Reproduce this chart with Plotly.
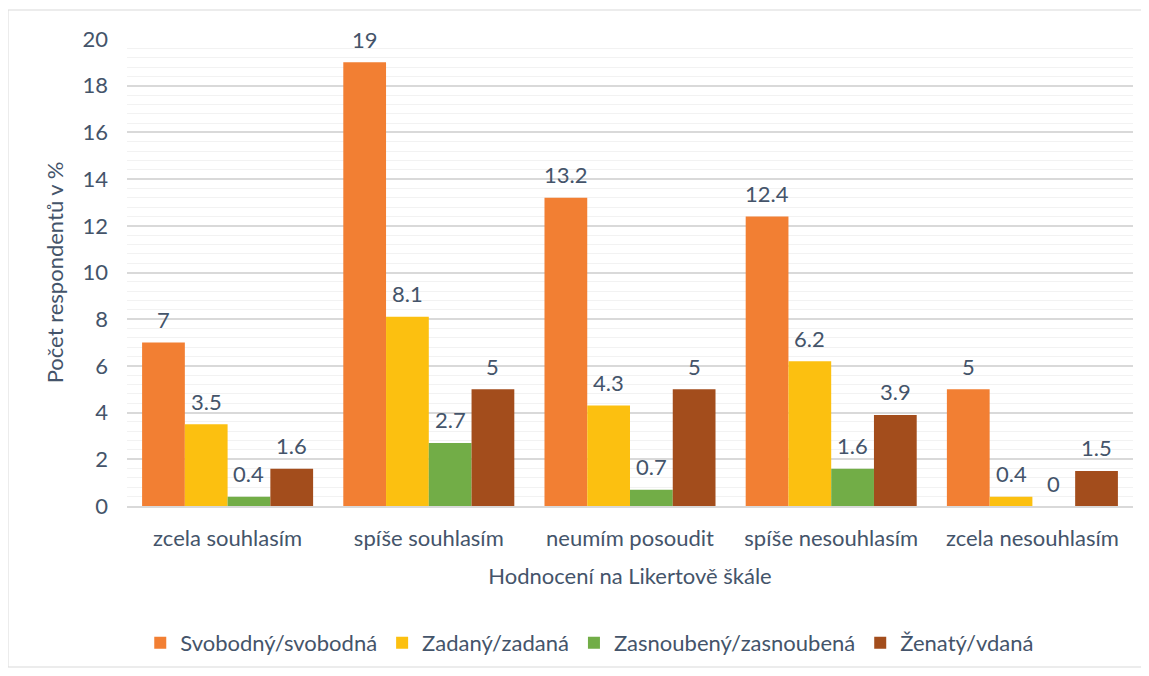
import plotly.graph_objects as go

categories = ["zcela souhlasím", "spíše souhlasím", "neumím posoudit", "spíše nesouhlasím", "zcela nesouhlasím"]
series_names = ["Svobodný/svobodná", "Zadaný/zadaná", "Zasnoubený/zasnoubená", "Ženatý/vdaná"]
svobodny = [7, 19, 13.2, 12.4, 5]
zadany = [3.5, 8.1, 4.3, 6.2, 0.4]
zasnoubeny = [0.4, 2.7, 0.7, 1.6, 0]
zenaty = [1.6, 5, 5, 3.9, 1.5]
colors = ["#F27F33", "#FCC010", "#72AD47", "#A34D1C"]

series = [svobodny, zadany, zasnoubeny, zenaty]
TXT = "#44546A"
FONT = "Lato"
FS = 22
bargap = 0.15

fig = go.Figure()
for name, vals, col in zip(series_names, series, colors):
    fig.add_trace(go.Bar(name=name, x=categories, y=vals, marker=dict(color=col, line=dict(width=0))))

# data labels above bars
n = len(series)
bw = (1 - bargap) / n
annotations = []
for si, vals in enumerate(series):
    off = -(1 - bargap) / 2 + bw * (si + 0.5)
    for ci, v in enumerate(vals):
        annotations.append(dict(x=ci + off, y=v, xref="x", yref="y", text=f"{v:g}", showarrow=False,
                                yshift=23, font=dict(family=FONT, size=FS, color=TXT)))

# page has an 8px body margin; figure coordinates = page coordinates - 8
OFF = 8
W, H = 1149, 676
L = 127 - OFF
T = 39 - OFF
R = W - (1133 - OFF)
B = H - (506 - OFF)
pw, ph = W - L - R, H - T - B
fig.add_shape(type="rect", xref="paper", yref="paper",
              x0=(8 - OFF - L) / pw, x1=(1142 - OFF - L) / pw,
              y0=(H - B - (667 - OFF)) / ph, y1=(H - B - (10 - OFF)) / ph,
              line=dict(color="#D9D9D9", width=1), fillcolor="rgba(0,0,0,0)", layer="below")

fig.update_layout(
    width=W, height=H,
    margin=dict(l=L, r=R, t=T, b=B),
    paper_bgcolor="white", plot_bgcolor="white",
    barmode="group", bargap=bargap, bargroupgap=0,
    font=dict(family=FONT, size=FS, color=TXT),
    annotations=annotations,
    legend=dict(orientation="h", x=0.46, xanchor="center", y=(H - B - (643 - OFF)) / ph, yanchor="middle",
                font=dict(family=FONT, size=FS, color=TXT), itemwidth=30, traceorder="normal"),
    xaxis=dict(showgrid=False, showline=True, linecolor="#D9D9D9", linewidth=1.5, ticks="",
               ticklabelstandoff=12,
               title=dict(text="Hodnocení na Likertově škále", font=dict(family=FONT, size=FS, color=TXT), standoff=18)),
    yaxis=dict(range=[0, 20], dtick=2, showgrid=True, gridcolor="#D9D9D9", gridwidth=1.5, zeroline=False,
               ticklabelstandoff=18,
               minor=dict(dtick=0.4, showgrid=True, gridcolor="#F2F2F2", gridwidth=1),
               title=dict(text="Počet respondentů v %", font=dict(family=FONT, size=FS, color=TXT), standoff=12)),
)

fig.write_html("out.html")
